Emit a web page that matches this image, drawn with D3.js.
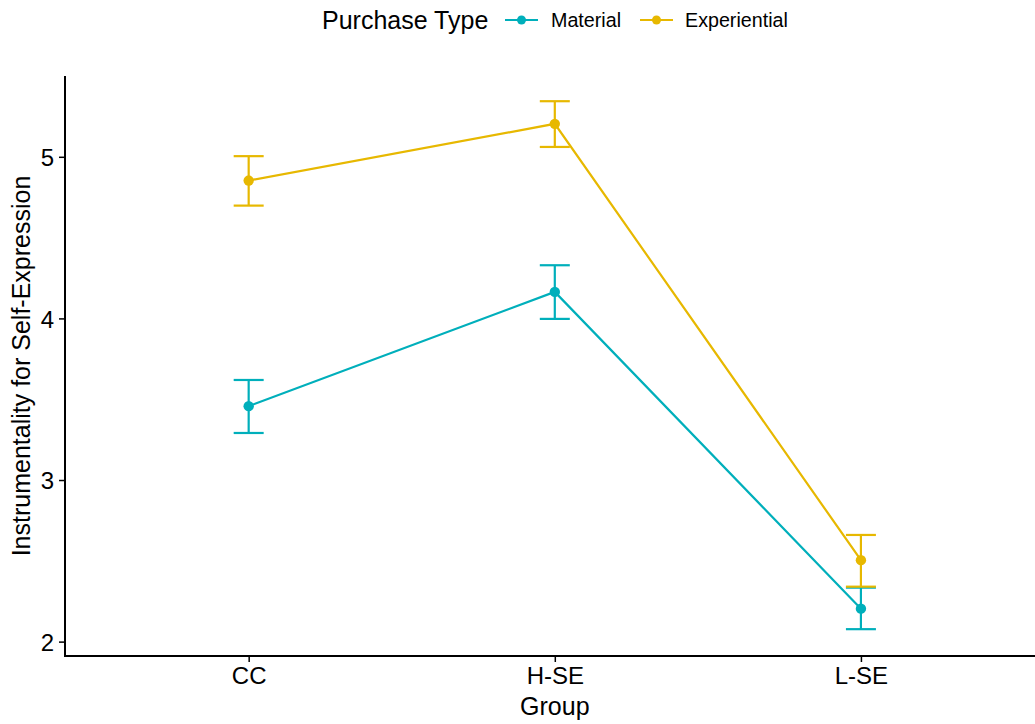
<!DOCTYPE html>
<html>
<head>
<meta charset="utf-8">
<script src="https://cdn.jsdelivr.net/npm/d3@7"></script>
<style>
  html, body { margin: 0; padding: 0; background: #fff; }
  svg { display: block; font-family: "Liberation Sans", Arial, Helvetica, sans-serif; }
</style>
</head>
<body>
<svg id="chart" width="1035" height="724"></svg>
<script>
// ---- data ----
const groups = ["CC", "H-SE", "L-SE"];
const seriesNames = ["Material", "Experiential"];
const materialMean = [3.457, 4.164, 2.204];
const materialLow  = [3.291, 3.997, 2.077];
const materialHigh = [3.619, 4.329, 2.334];
const experientialMean = [4.853, 5.204, 2.504];
const experientialLow  = [4.698, 5.061, 2.340];
const experientialHigh = [5.004, 5.344, 2.660];
const yTicks = [2, 3, 4, 5];
const colors = ["#00AFBB", "#E7B800"];

const series = [
  { name: seriesNames[0], color: colors[0], mean: materialMean, lo: materialLow, hi: materialHigh },
  { name: seriesNames[1], color: colors[1], mean: experientialMean, lo: experientialLow, hi: experientialHigh }
];

const svg = d3.select("#chart");
const panel = { left: 65, right: 1044.6, top: 76, bottom: 656 };

const x = d3.scalePoint().domain(groups).range([panel.left, panel.right]).padding(0.6);
const y = d3.scaleLinear().domain([1.911, 5.50]).range([panel.bottom, panel.top]);

// axes
const xAxis = svg.append("g").attr("transform", `translate(0,${panel.bottom})`)
  .call(d3.axisBottom(x).tickSize(6).tickPadding(5));
xAxis.select(".domain").remove();
xAxis.append("line").attr("x1", panel.left).attr("x2", 1035).attr("y1", 0).attr("y2", 0)
  .attr("stroke", "#000").attr("stroke-width", 2);
xAxis.selectAll(".tick line").attr("stroke", "#000").attr("stroke-width", 1.5);
xAxis.selectAll(".tick text").attr("fill", "#000").style("font-size", "24px");

const yAxis = svg.append("g").attr("transform", `translate(${panel.left},0)`)
  .call(d3.axisLeft(y).tickValues(yTicks).tickFormat(d3.format("d")).tickSize(6).tickPadding(5));
yAxis.select(".domain").remove();
yAxis.append("line").attr("x1", 0).attr("x2", 0).attr("y1", panel.top).attr("y2", panel.bottom + 1)
  .attr("stroke", "#000").attr("stroke-width", 2);
yAxis.selectAll(".tick line").attr("stroke", "#000").attr("stroke-width", 1.5);
yAxis.selectAll(".tick text").attr("fill", "#000").style("font-size", "24px").attr("dy", "0.36em");

// axis titles
svg.append("text").attr("x", x("H-SE")).attr("y", 715).attr("text-anchor", "middle")
  .style("font-size", "25px").attr("fill", "#000").text("Group");
svg.append("text").attr("transform", `translate(30,${(panel.top + panel.bottom) / 2}) rotate(-90)`)
  .attr("text-anchor", "middle").style("font-size", "25px").attr("fill", "#000")
  .text("Instrumentality for Self-Expression");

// series
const line = d3.line().x((d, i) => x(groups[i])).y(d => y(d));
const capHalf = 15;
series.forEach(s => {
  const g = svg.append("g");
  // error bars
  groups.forEach((gname, i) => {
    const cx = x(gname);
    g.append("line").attr("x1", cx).attr("x2", cx).attr("y1", y(s.lo[i])).attr("y2", y(s.hi[i]))
      .attr("stroke", s.color).attr("stroke-width", 2.2);
    g.append("line").attr("x1", cx - capHalf).attr("x2", cx + capHalf).attr("y1", y(s.lo[i])).attr("y2", y(s.lo[i]))
      .attr("stroke", s.color).attr("stroke-width", 2.2);
    g.append("line").attr("x1", cx - capHalf).attr("x2", cx + capHalf).attr("y1", y(s.hi[i])).attr("y2", y(s.hi[i]))
      .attr("stroke", s.color).attr("stroke-width", 2.2);
  });
  g.append("path").datum(s.mean).attr("d", line).attr("fill", "none")
    .attr("stroke", s.color).attr("stroke-width", 2.2);
  g.selectAll("circle").data(s.mean).enter().append("circle")
    .attr("cx", (d, i) => x(groups[i])).attr("cy", d => y(d)).attr("r", 5.2).attr("fill", s.color);
});

// legend
const legend = svg.append("g");
legend.append("text").attr("x", 322).attr("y", 29).style("font-size", "25px").attr("fill", "#000")
  .text("Purchase Type");
const keyX = [505, 640];
const labelX = [551, 685];
series.forEach((s, i) => {
  legend.append("line").attr("x1", keyX[i]).attr("x2", keyX[i] + 33).attr("y1", 20).attr("y2", 20)
    .attr("stroke", s.color).attr("stroke-width", 2.2);
  legend.append("circle").attr("cx", keyX[i] + 16.5).attr("cy", 20).attr("r", 4.5).attr("fill", s.color);
  legend.append("text").attr("x", labelX[i]).attr("y", 27).style("font-size", "19.7px").attr("fill", "#000")
    .text(s.name);
});
</script>
</body>
</html>
